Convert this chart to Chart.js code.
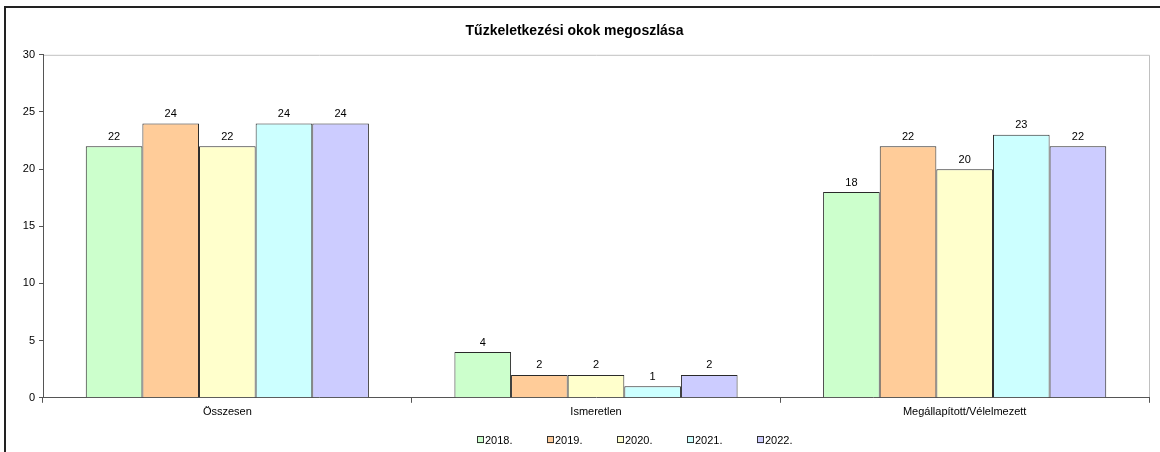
<!DOCTYPE html>
<html>
<head>
<meta charset="utf-8">
<script src="https://cdn.jsdelivr.net/npm/chart.js@4.4.0/dist/chart.umd.min.js"></script>
<style>
  html, body { margin: 0; padding: 0; background: #fff; }
  #wrap { position: relative; width: 1160px; height: 452px; }
</style>
</head>
<body>
<div id="wrap"><canvas id="chart" width="1160" height="452"></canvas></div>
<script>
const categories = ['Összesen', 'Ismeretlen', 'Megállapított/Vélelmezett'];
const years = ['2018.', '2019.', '2020.', '2021.', '2022.'];
const values2018 = [22, 4, 18];
const values2019 = [24, 2, 22];
const values2020 = [22, 2, 20];
const values2021 = [24, 1, 23];
const values2022 = [24, 2, 22];
const colors = ['#CCFFCC', '#FFCC99', '#FFFFCC', '#CCFFFF', '#CCCCFF'];

const seriesValues = [values2018, values2019, values2020, values2021, values2022];
const FONT = '"Liberation Sans", Arial, sans-serif';

// frame around the whole chart + grey border around plot area
const framePlugin = {
  id: 'frame',
  beforeDraw(chart) {
    const ctx = chart.ctx;
    const a = chart.chartArea;
    ctx.save();
    ctx.strokeStyle = '#222';
    ctx.lineWidth = 2;
    ctx.beginPath();
    ctx.moveTo(5, 452);
    ctx.lineTo(5, 7);
    ctx.lineTo(1160, 7);
    ctx.stroke();
    ctx.strokeStyle = '#c0c0c0';
    ctx.lineWidth = 1;
    ctx.beginPath();
    ctx.moveTo(a.left, a.top + 0.5);
    ctx.lineTo(a.right + 0.5, a.top + 0.5);
    ctx.lineTo(a.right + 0.5, a.bottom);
    ctx.stroke();
    ctx.restore();
  }
};

// value labels above bars
const valueLabels = {
  id: 'valueLabels',
  afterDatasetsDraw(chart) {
    const ctx = chart.ctx;
    ctx.save();
    ctx.font = '11px ' + FONT;
    ctx.fillStyle = '#000';
    ctx.textAlign = 'center';
    ctx.textBaseline = 'bottom';
    chart.data.datasets.forEach((ds, i) => {
      chart.getDatasetMeta(i).data.forEach((bar, j) => {
        ctx.fillText(ds.data[j], bar.x, bar.y - 4);
      });
    });
    ctx.restore();
  }
};

// legend row at the bottom, placed like the original
const legendRow = {
  id: 'legendRow',
  afterDraw(chart) {
    const ctx = chart.ctx;
    ctx.save();
    ctx.font = '11px ' + FONT;
    ctx.textBaseline = 'middle';
    ctx.textAlign = 'left';
    const y = 440;
    chart.data.datasets.forEach((ds, i) => {
      const x = 477 + i * 70;
      ctx.fillStyle = ds.backgroundColor;
      ctx.fillRect(x, y - 3.5, 7, 7);
      ctx.strokeStyle = '#333';
      ctx.lineWidth = 1;
      ctx.strokeRect(x + 0.5, y - 3.5, 6, 6);
      ctx.fillStyle = '#000';
      ctx.fillText(ds.label, x + 8, y + 0.5);
    });
    ctx.restore();
  }
};

new Chart(document.getElementById('chart'), {
  type: 'bar',
  data: {
    labels: categories,
    datasets: years.map((y, i) => ({
      label: y,
      data: seriesValues[i],
      backgroundColor: colors[i],
      borderColor: '#2a2a2a',
      borderWidth: 1,
      borderSkipped: 'bottom',
      barPercentage: 1,
      categoryPercentage: 0.768
    }))
  },
  options: {
    responsive: false,
    animation: false,
    layout: { padding: { top: 10, right: 11, left: 0, bottom: 30 } },
    plugins: {
      title: {
        display: true,
        text: 'Tűzkeletkezési okok megoszlása',
        color: '#000',
        font: { family: FONT, size: 14, weight: 'bold' },
        padding: { top: 13, bottom: 15 }
      },
      legend: { display: false },
      tooltip: { enabled: false }
    },
    scales: {
      x: {
        offset: true,
        grid: { offset: true, drawOnChartArea: false, tickLength: 5, color: '#555' },
        border: { color: '#555', width: 1 },
        ticks: {
          color: '#000',
          padding: 3,
          maxRotation: 0,
          font: { family: FONT, size: 11 }
        }
      },
      y: {
        min: 0,
        max: 30,
        afterFit(scale) { scale.width = 43; },
        grid: { drawOnChartArea: false, tickLength: 4, color: '#555' },
        border: { color: '#555', width: 1 },
        ticks: {
          stepSize: 5,
          color: '#000',
          padding: 4,
          font: { family: FONT, size: 11 }
        }
      }
    }
  },
  plugins: [framePlugin, valueLabels, legendRow]
});
</script>
</body>
</html>
